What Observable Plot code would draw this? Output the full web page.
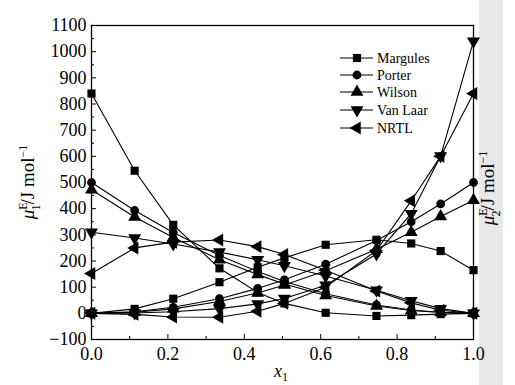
<!DOCTYPE html>
<html><head><meta charset="utf-8">
<script src="https://cdn.jsdelivr.net/npm/d3@7"></script>
<script src="https://cdn.jsdelivr.net/npm/@observablehq/plot@0.6"></script>
<style>
body{margin:0;background:#fff;}
#chart{position:relative;width:515px;height:385px;}
</style></head><body><div id="chart"></div>
<script>
// mole fraction of component 1
const x1 = [0, 0.113, 0.214, 0.335, 0.435, 0.505, 0.613, 0.746, 0.837, 0.914, 1.0];
const models = ["Margules", "Porter", "Wilson", "Van Laar", "NRTL"];
// excess chemical potentials, J/mol
const mu1_Margules = [840, 545, 338, 172, 80, 38, 2, -10, -7, -3, 0];
const mu2_Margules = [0, 17, 56, 119, 176, 212, 262, 281, 267, 238, 165];
const mu1_Porter   = [500, 393, 309, 221, 160, 122, 75, 32, 13, 4, 0];
const mu2_Porter   = [0, 6, 23, 56, 95, 128, 188, 278, 350, 418, 500];
const mu1_Wilson   = [472, 368, 290, 205, 148, 112, 68, 28, 11, 3, 0];
const mu2_Wilson   = [0, 4, 17, 45, 78, 108, 163, 245, 310, 370, 432];
const mu1_VanLaar  = [310, 288, 265, 234, 205, 182, 143, 88, 48, 18, 0];
const mu2_VanLaar  = [0, 1, 6, 18, 36, 57, 107, 227, 381, 601, 1040];
const mu1_NRTL     = [152, 250, 272, 280, 255, 225, 165, 85, 40, 12, 0];
const mu2_NRTL     = [0, -4, -14, -15, 8, 38, 100, 240, 430, 600, 840];
const yTicks = [-100, 0, 100, 200, 300, 400, 500, 600, 700, 800, 900, 1000, 1100];
const yMinor = [-50, 50, 150, 250, 350, 450, 550, 650, 750, 850, 950, 1050];
const xTicks = [0, 0.2, 0.4, 0.6, 0.8, 1.0];
const xMinor = [0.1, 0.3, 0.5, 0.7, 0.9];

function tri(angle) {
  return {draw(ctx, size) {
    const r = Math.sqrt(size / (3 * Math.sqrt(3) / 4));
    for (let i = 0; i < 3; i++) {
      const a = angle + i * 2 * Math.PI / 3;
      const px = r * Math.cos(a), py = r * Math.sin(a);
      if (i) ctx.lineTo(px, py); else ctx.moveTo(px, py);
    }
    ctx.closePath();
  }};
}
const symbolsByModel = {
  "Margules": d3.symbolSquare,
  "Porter": d3.symbolCircle,
  "Wilson": tri(-Math.PI / 2),
  "Van Laar": tri(Math.PI / 2),
  "NRTL": tri(Math.PI)
};
const rByModel = {"Margules": 4.6, "Porter": 4.4, "Wilson": 4.8, "Van Laar": 4.8, "NRTL": 4.8};
const series = {
  "Margules": [mu1_Margules, mu2_Margules],
  "Porter": [mu1_Porter, mu2_Porter],
  "Wilson": [mu1_Wilson, mu2_Wilson],
  "Van Laar": [mu1_VanLaar, mu2_VanLaar],
  "NRTL": [mu1_NRTL, mu2_NRTL]
};
const rows = [];
for (const m of models) {
  series[m].forEach((arr, k) => {
    arr.forEach((v, i) => rows.push({model: m, key: m + k, x: x1[i], y: v}));
  });
}

const marks = [
  Plot.axisY(yMinor, {tickSize: -3, tickFormat: () => "", label: null}),
  Plot.axisY(yTicks, {tickSize: -5, tickPadding: 10, tickFormat: d => d < 0 ? "\u2212" + Math.abs(d) : String(d), label: null}),
  Plot.axisX(xMinor, {tickSize: -3, tickFormat: () => "", label: null}),
  Plot.axisX(xTicks, {tickSize: -5, tickPadding: 13, tickFormat: d3.format(".1f"), label: null}),
  Plot.line(rows, {x: "x", y: "y", z: "key", stroke: "black", strokeWidth: 1.1})
];
for (const m of models) {
  marks.push(Plot.dot(rows.filter(d => d.model === m), {x: "x", y: "y", symbol: symbolsByModel[m], r: rByModel[m], fill: "black", stroke: "none"}));
}
marks.push(Plot.frame({stroke: "black", strokeWidth: 1.3}));

const chart = Plot.plot({
  width: 515, height: 385,
  marginLeft: 91, marginRight: 42, marginTop: 25, marginBottom: 46,
  x: {domain: [0, 1]},
  y: {domain: [-100, 1100]},
  style: {fontFamily: "Liberation Serif", fontSize: "18px", background: "transparent", color: "black"},
  marks
});
document.getElementById("chart").appendChild(chart);

const svg = d3.select(chart);
// binding shadow on right
svg.insert("rect", ":first-child").attr("x", 479).attr("y", 0).attr("width", 24).attr("height", 385).attr("fill", "#e8e8e8");

function yLabel(xb, yc, sub) {
  const t = svg.append("text").attr("transform", `translate(${xb},${yc}) rotate(-90)`)
    .attr("text-anchor", "middle").attr("font-family", "Liberation Serif").attr("font-size", 19).attr("fill", "black");
  t.append("tspan").attr("font-style", "italic").text("\u03bc");
  t.append("tspan").attr("dy", -7).attr("font-size", 12).text("E");
  t.append("tspan").attr("dx", -8).attr("dy", 13).attr("font-size", 12).text(sub);
  t.append("tspan").attr("dy", -6).text("/J mol");
  t.append("tspan").attr("dy", -7).attr("font-size", 12).text("\u22121");
}
yLabel(34, 182, "1");
yLabel(494, 188, "2");

const xl = svg.append("text").attr("x", 274).attr("y", 377).attr("text-anchor", "start").attr("font-family", "Liberation Serif").attr("font-size", 18).attr("fill", "black");
xl.append("tspan").attr("font-style", "italic").text("x");
xl.append("tspan").attr("dy", 4).attr("font-size", 12).text("1");

// legend
const legY = [58, 75, 92, 110, 128];
models.forEach((m, i) => {
  const g = svg.append("g").attr("transform", `translate(0,${legY[i]})`);
  g.append("line").attr("x1", 340).attr("x2", 373).attr("y1", 0).attr("y2", 0).attr("stroke", "black").attr("stroke-width", 1.2);
  g.append("path").attr("transform", "translate(357,0)").attr("d", d3.symbol(symbolsByModel[m], Math.PI * rByModel[m] * rByModel[m])()).attr("fill", "black");
  g.append("text").attr("x", 377).attr("y", 5).attr("text-anchor", "start").attr("font-family", "Liberation Serif").attr("font-size", 14).attr("fill", "black").text(m);
});
</script>
</body></html>
